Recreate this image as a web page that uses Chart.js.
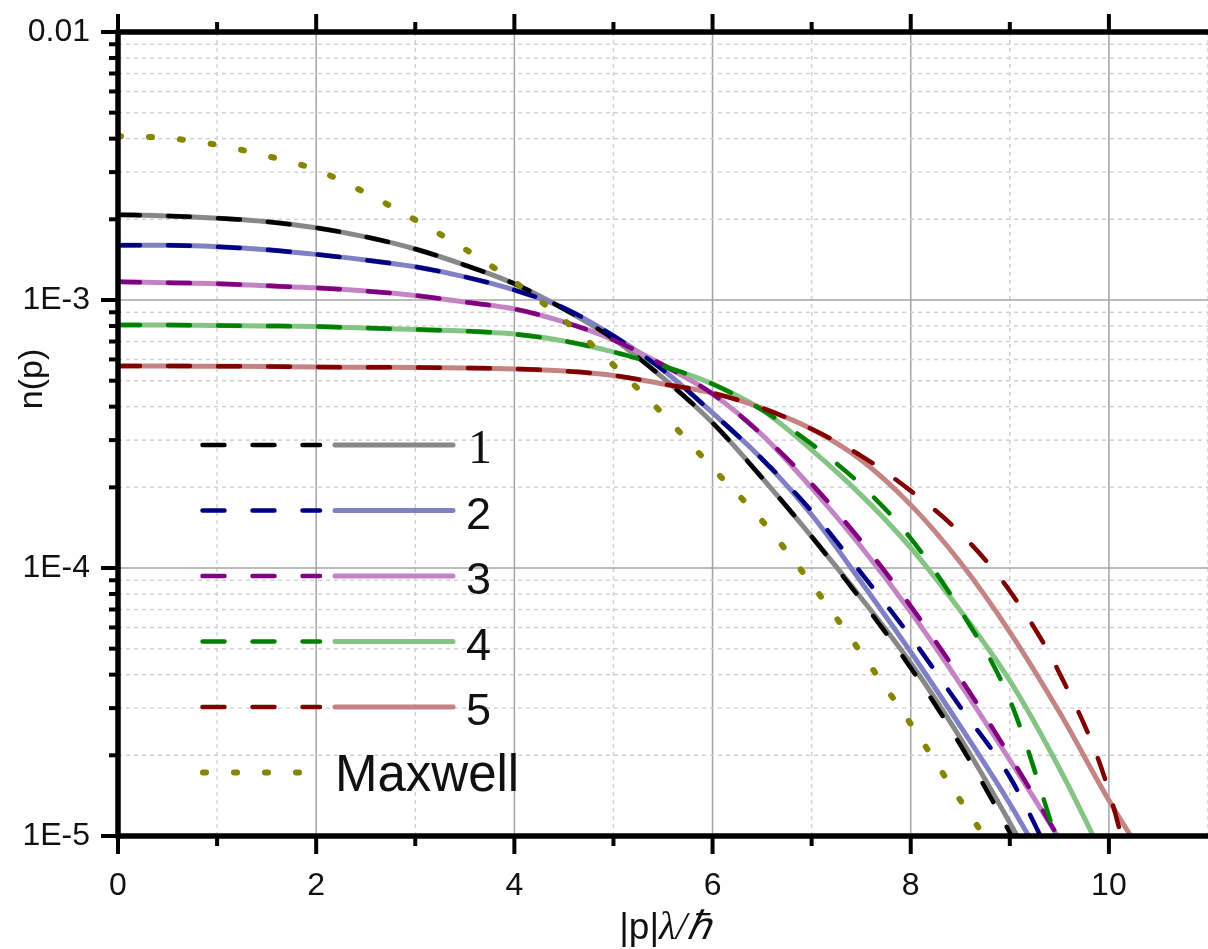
<!DOCTYPE html>
<html lang="en">
<head>
<meta charset="UTF-8">
<title>n(p)</title>
<script src="https://cdn.jsdelivr.net/npm/chart.js"></script>
<style>
  html, body { margin: 0; padding: 0; background: #fff; }
  #wrap { position: relative; width: 1208px; height: 949px; }
</style>
</head>
<body>
<div id="wrap"><canvas id="np"></canvas></div>
<script>
// momentum grid (|p| lambda / hbar), one entry per value below
const pGrid = [0, 0.5, 1, 1.5, 2, 2.5, 3, 3.5, 4, 4.5, 5, 5.5, 6, 6.5, 7, 7.5, 8, 8.5, 9, 9.5, 10, 10.5];

const maxwell = [4.09e-3, 4.02e-3, 3.79e-3, 3.45e-3, 3.06e-3, 2.51e-3, 1.99e-3, 1.55e-3, 1.17e-3, 8.42e-4, 5.72e-4, 3.75e-4, 2.36e-4, 1.50e-4, 8.71e-5, 4.82e-5, 2.62e-5, 1.36e-5, 7.21e-6];

const n1dash  = [2.08e-3, 2.06e-3, 2.02e-3, 1.96e-3, 1.86e-3, 1.72e-3, 1.55e-3, 1.35e-3, 1.15e-3, 9.26e-4, 7.15e-4, 5.12e-4, 3.48e-4, 2.17e-4, 1.31e-4, 7.60e-5, 4.24e-5, 2.19e-5, 1.03e-5, 4.46e-6];
const n1solid = [2.08e-3, 2.06e-3, 2.02e-3, 1.96e-3, 1.86e-3, 1.72e-3, 1.55e-3, 1.35e-3, 1.15e-3, 9.26e-4, 7.15e-4, 5.12e-4, 3.48e-4, 2.17e-4, 1.31e-4, 7.73e-5, 4.42e-5, 2.32e-5, 1.12e-5, 5.07e-6];

const n2dash  = [1.60e-3, 1.60e-3, 1.58e-3, 1.54e-3, 1.48e-3, 1.41e-3, 1.33e-3, 1.22e-3, 1.09e-3, 9.34e-4, 7.34e-4, 5.48e-4, 3.79e-4, 2.55e-4, 1.63e-4, 9.58e-5, 5.53e-5, 3.03e-5, 1.66e-5, 7.2e-6];
const n2solid = [1.60e-3, 1.60e-3, 1.58e-3, 1.54e-3, 1.48e-3, 1.41e-3, 1.33e-3, 1.22e-3, 1.09e-3, 9.34e-4, 7.34e-4, 5.48e-4, 3.79e-4, 2.55e-4, 1.58e-4, 8.87e-5, 4.86e-5, 2.57e-5, 1.32e-5, 6.29e-6];

const n3dash  = [1.17e-3, 1.16e-3, 1.15e-3, 1.13e-3, 1.11e-3, 1.08e-3, 1.04e-3, 9.83e-4, 9.26e-4, 8.28e-4, 7.09e-4, 5.72e-4, 4.46e-4, 3.14e-4, 2.06e-4, 1.26e-4, 7.21e-5, 3.89e-5, 1.99e-5, 9.74e-6, 4.46e-6];
const n3solid = [1.17e-3, 1.16e-3, 1.15e-3, 1.13e-3, 1.11e-3, 1.08e-3, 1.04e-3, 9.83e-4, 9.26e-4, 8.28e-4, 7.09e-4, 5.72e-4, 4.46e-4, 3.14e-4, 1.99e-4, 1.20e-4, 6.85e-5, 3.69e-5, 1.92e-5, 9.74e-6, 4.65e-6];

const n4dash  = [8.07e-4, 8.07e-4, 8.03e-4, 8.00e-4, 7.96e-4, 7.86e-4, 7.76e-4, 7.66e-4, 7.46e-4, 7.03e-4, 6.40e-4, 5.67e-4, 4.86e-4, 3.89e-4, 2.90e-4, 2.04e-4, 1.29e-4, 6.97e-5, 3.22e-5, 9.0e-6];
const n4solid = [8.07e-4, 8.07e-4, 8.03e-4, 8.00e-4, 7.96e-4, 7.86e-4, 7.76e-4, 7.66e-4, 7.46e-4, 7.03e-4, 6.40e-4, 5.67e-4, 4.86e-4, 3.89e-4, 2.76e-4, 1.87e-4, 1.19e-4, 6.94e-5, 3.80e-5, 1.79e-5, 7.60e-6];

const n5dash  = [5.67e-4, 5.67e-4, 5.66e-4, 5.65e-4, 5.62e-4, 5.61e-4, 5.60e-4, 5.58e-4, 5.53e-4, 5.43e-4, 5.23e-4, 4.86e-4, 4.50e-4, 3.95e-4, 3.30e-4, 2.62e-4, 1.94e-4, 1.35e-4, 8.21e-5, 4.06e-5, 1.47e-5, 2.5e-6];
const n5solid = [5.67e-4, 5.67e-4, 5.66e-4, 5.65e-4, 5.62e-4, 5.61e-4, 5.60e-4, 5.58e-4, 5.53e-4, 5.43e-4, 5.23e-4, 4.86e-4, 4.50e-4, 3.95e-4, 3.30e-4, 2.53e-4, 1.72e-4, 1.05e-4, 5.77e-5, 2.90e-5, 1.36e-5, 6.85e-6];

const legendLabels = ['1', '2', '3', '4', '5', 'Maxwell'];
const xTickValues = [0, 2, 4, 6, 8, 10];
const yTickValues = [1e-5, 1e-4, 1e-3, 1e-2];
const yTickLabels = ['1E-5', '1E-4', '1E-3', '0.01'];

// colours: dark dashed / light solid pairs
const darkColors  = ['#000000', '#000080', '#800080', '#008000', '#800000'];
const lightColors = ['#888888', '#8080c4', '#c484c4', '#84c484', '#c48484'];
const maxwellColor = '#858500';

const SANS = '"Liberation Sans", Arial, sans-serif';
const SERIF = '"Liberation Serif", "Times New Roman", serif';

function pts(arr) {
    return arr.map((v, i) => ({ x: pGrid[i], y: v }));
}

const dashSeries = [n1dash, n2dash, n3dash, n4dash, n5dash];
const solidSeries = [n1solid, n2solid, n3solid, n4solid, n5solid];

const datasets = [];
solidSeries.forEach((s, i) => {
    datasets.push({
        label: legendLabels[i] + ' solid',
        data: pts(s),
        borderColor: lightColors[i],
        borderWidth: 5,
        order: 20 - i
    });
});
dashSeries.forEach((s, i) => {
    datasets.push({
        label: legendLabels[i] + ' dashed',
        data: pts(s),
        borderColor: darkColors[i],
        borderWidth: 4.5,
        borderDash: [22, 28],
        borderCapStyle: 'round',
        order: 10 - i
    });
});
datasets.push({
    label: 'Maxwell',
    data: pts(maxwell),
    borderColor: maxwellColor,
    borderWidth: 6,
    borderDash: [3, 28],
    borderCapStyle: 'round',
    order: 0
});

// grid, axis frame, tick marks, legend and axis titles
const frame = {
    id: 'frame',
    beforeDatasetsDraw(chart) {
        const { ctx, chartArea: a, scales: { x, y } } = chart;
        ctx.save();
        ctx.lineWidth = 1.5;
        for (let v = 1; v <= 11; v++) {
            const px = x.getPixelForValue(v);
            if (v % 2) { ctx.strokeStyle = '#d2d2d2'; ctx.setLineDash([4, 4]); }
            else { ctx.strokeStyle = '#a4a4a4'; ctx.setLineDash([]); }
            ctx.beginPath(); ctx.moveTo(px, a.top); ctx.lineTo(px, a.bottom); ctx.stroke();
        }
        for (let e = -5; e <= -3; e++) {
            for (let m = 1; m <= 9; m++) {
                if (e === -5 && m === 1) continue;
                const py = y.getPixelForValue(m * Math.pow(10, e));
                if (m === 1) { ctx.strokeStyle = '#a4a4a4'; ctx.setLineDash([]); }
                else { ctx.strokeStyle = '#d2d2d2'; ctx.setLineDash([4, 4]); }
                ctx.beginPath(); ctx.moveTo(a.left, py); ctx.lineTo(a.right, py); ctx.stroke();
            }
        }
        ctx.restore();
    },
    afterDatasetsDraw(chart) {
        const { ctx, chartArea: a, scales: { x, y } } = chart;
        ctx.save();
        ctx.setLineDash([]);
        ctx.strokeStyle = '#000';

        // ticks
        ctx.lineWidth = 4;
        for (let v = 0; v <= 10; v++) {
            const px = x.getPixelForValue(v);
            const len = v % 2 ? 10 : 18;
            ctx.beginPath(); ctx.moveTo(px, a.bottom); ctx.lineTo(px, a.bottom + len); ctx.stroke();
            ctx.beginPath(); ctx.moveTo(px, a.top); ctx.lineTo(px, a.top - len); ctx.stroke();
        }
        for (let e = -5; e <= -2; e++) {
            for (let m = 1; m <= 9; m++) {
                if (e === -2 && m > 1) break;
                const py = y.getPixelForValue(m * Math.pow(10, e));
                const len = m === 1 ? 17 : 9;
                ctx.beginPath(); ctx.moveTo(a.left, py); ctx.lineTo(a.left - len, py); ctx.stroke();
            }
        }

        // axis lines
        ctx.lineWidth = 5.5;
        ctx.beginPath();
        ctx.moveTo(a.left, a.top); ctx.lineTo(a.left, a.bottom);
        ctx.moveTo(a.left - 2.5, a.bottom); ctx.lineTo(a.right, a.bottom);
        ctx.moveTo(a.left - 2.5, a.top); ctx.lineTo(a.right, a.top);
        ctx.stroke();

        // legend
        legendLabels.forEach((lab, i) => {
            const ly = 445 + i * 65.5;
            ctx.fillStyle = '#111';
            ctx.textAlign = 'left';
            ctx.textBaseline = 'alphabetic';
            if (i < 5) {
                ctx.lineCap = 'round';
                ctx.lineWidth = 4.5;
                ctx.strokeStyle = darkColors[i];
                ctx.setLineDash([22, 28]);
                ctx.beginPath(); ctx.moveTo(202.5, ly); ctx.lineTo(320, ly); ctx.stroke();
                ctx.setLineDash([]);
                ctx.lineWidth = 5;
                ctx.strokeStyle = lightColors[i];
                ctx.beginPath(); ctx.moveTo(335, ly); ctx.lineTo(453, ly); ctx.stroke();
                ctx.font = i === 0 ? '48px ' + SERIF : '45px ' + SANS;
                ctx.fillText(lab, i === 0 ? 468 : 466, ly + 18);
            } else {
                ctx.lineCap = 'round';
                ctx.lineWidth = 6;
                ctx.strokeStyle = maxwellColor;
                ctx.setLineDash([3, 28]);
                ctx.beginPath(); ctx.moveTo(203, ly); ctx.lineTo(300, ly); ctx.stroke();
                ctx.setLineDash([]);
                ctx.font = '51px ' + SANS;
                ctx.fillText(lab, 335, ly + 18);
            }
        });

        // axis titles
        ctx.fillStyle = '#111';
        ctx.textBaseline = 'middle';
        ctx.save();
        ctx.translate(33, 379);
        ctx.rotate(-Math.PI / 2);
        ctx.textAlign = 'center';
        ctx.font = '34px ' + SANS;
        ctx.fillText('n(p)', 0, 0);
        ctx.restore();

        const parts = [['|p|', '37px ' + SANS], ['λ/ℏ', 'italic 39px ' + SERIF]];
        let total = 0;
        parts.forEach(p => { ctx.font = p[1]; total += ctx.measureText(p[0]).width; });
        let tx = 665 - total / 2;
        ctx.textAlign = 'left';
        parts.forEach(p => {
            ctx.font = p[1];
            ctx.fillText(p[0], tx, 929);
            tx += ctx.measureText(p[0]).width;
        });
        ctx.restore();
    }
};

new Chart(document.getElementById('np'), {
    type: 'line',
    data: { datasets },
    options: {
        responsive: true,
        maintainAspectRatio: false,
        animation: false,
        layout: { padding: { top: 32, right: 0, left: 0, bottom: 0 } },
        elements: {
            point: { radius: 0 },
            line: { cubicInterpolationMode: 'monotone', fill: false }
        },
        datasets: { line: { clip: 0 } },
        plugins: { legend: { display: false }, tooltip: { enabled: false } },
        scales: {
            x: {
                type: 'linear',
                min: 0,
                max: 11,
                afterBuildTicks: s => { s.ticks = xTickValues.map(v => ({ value: v })); },
                afterFit: s => { s.height = 113; s.paddingLeft = 0; s.paddingRight = 0; },
                grid: { display: false, drawTicks: false },
                border: { display: false },
                ticks: {
                    autoSkip: false,
                    maxRotation: 0,
                    padding: 31,
                    color: '#111',
                    font: { family: SANS, size: 32 }
                }
            },
            y: {
                type: 'logarithmic',
                min: 1e-5,
                max: 1e-2,
                afterBuildTicks: s => { s.ticks = yTickValues.map(v => ({ value: v })); },
                afterFit: s => { s.width = 118; s.paddingTop = 0; s.paddingBottom = 0; },
                grid: { display: false, drawTicks: false },
                border: { display: false },
                ticks: {
                    autoSkip: false,
                    padding: 28,
                    color: '#111',
                    font: { family: SANS, size: 32 },
                    callback: (v) => yTickLabels[yTickValues.findIndex(t => Math.abs(Math.log10(t) - Math.log10(v)) < 1e-6)]
                }
            }
        }
    },
    plugins: [frame]
});
</script>
</body>
</html>
